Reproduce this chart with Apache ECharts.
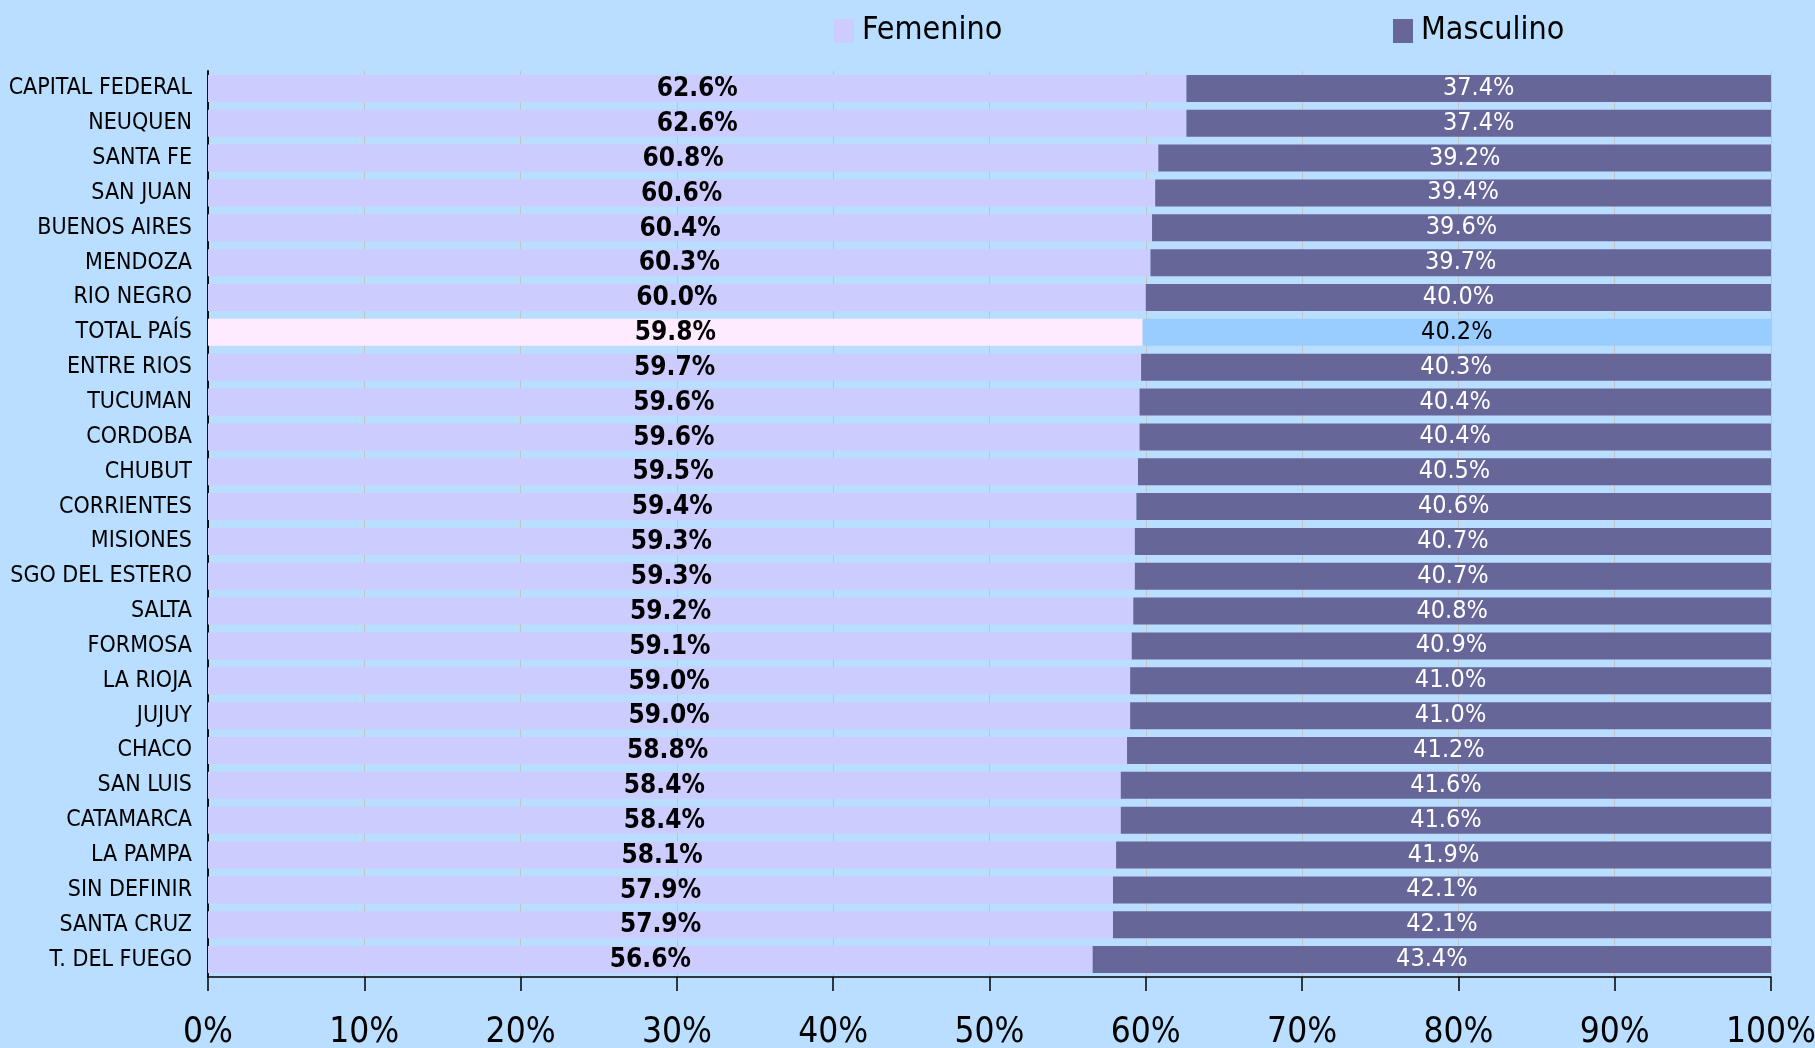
<!DOCTYPE html>
<html>
<head>
<meta charset="utf-8">
<title>Femenino / Masculino por provincia</title>
<script src="https://cdn.jsdelivr.net/npm/echarts@6/dist/echarts.min.js"></script>
<style>
  html, body { margin: 0; padding: 0; background: #B9DEFF; }
  #chart { width: 1815px; height: 1048px; }
</style>
</head>
<body>
<div id="chart"></div>
<script>
// provincias, de arriba hacia abajo
const provincias = [
  'CAPITAL FEDERAL', 'NEUQUEN', 'SANTA FE', 'SAN JUAN', 'BUENOS AIRES', 'MENDOZA',
  'RIO NEGRO', 'TOTAL PAÍS', 'ENTRE RIOS', 'TUCUMAN', 'CORDOBA', 'CHUBUT',
  'CORRIENTES', 'MISIONES', 'SGO DEL ESTERO', 'SALTA', 'FORMOSA', 'LA RIOJA',
  'JUJUY', 'CHACO', 'SAN LUIS', 'CATAMARCA', 'LA PAMPA', 'SIN DEFINIR',
  'SANTA CRUZ', 'T. DEL FUEGO'
];
const femenino = [
  62.6, 62.6, 60.8, 60.6, 60.4, 60.3, 60.0, 59.8, 59.7, 59.6, 59.6, 59.5, 59.4,
  59.3, 59.3, 59.2, 59.1, 59.0, 59.0, 58.8, 58.4, 58.4, 58.1, 57.9, 57.9, 56.6
];
const masculino = [
  37.4, 37.4, 39.2, 39.4, 39.6, 39.7, 40.0, 40.2, 40.3, 40.4, 40.4, 40.5, 40.6,
  40.7, 40.7, 40.8, 40.9, 41.0, 41.0, 41.2, 41.6, 41.6, 41.9, 42.1, 42.1, 43.4
];
const xTicks = [0, 10, 20, 30, 40, 50, 60, 70, 80, 90, 100];

const TOTAL = 'TOTAL PAÍS';
const FONT = '"Liberation Sans Narrow", "Arial Narrow", "DejaVu Sans Condensed", sans-serif';

const chart = echarts.init(document.getElementById('chart'));

// la fila del total va con otros colores
const femData = femenino.map((v, i) => provincias[i] === TOTAL
  ? { value: v, itemStyle: { color: '#FFEBFF' } }
  : v);
const mascData = masculino.map((v, i) => provincias[i] === TOTAL
  ? { value: v, itemStyle: { color: '#99CCFF' }, label: { color: '#000' } }
  : v);

const legendText = { fontFamily: FONT, fontSize: 32, color: '#000', padding: [0, 0, 0, 3] };

const option = {
  backgroundColor: '#B9DEFF',
  animation: false,
  textStyle: { fontFamily: FONT },
  legend: [
    {
      data: ['Femenino'], left: 829, top: 10, icon: 'rect',
      itemWidth: 20, itemHeight: 24, textStyle: legendText
    },
    {
      data: ['Masculino'], left: 1388, top: 10, icon: 'rect',
      itemWidth: 20, itemHeight: 24, textStyle: legendText
    }
  ],
  grid: {
    left: 208, right: 44, top: 71, bottom: 71,
    containLabel: false, outerBoundsMode: 'none'
  },
  xAxis: {
    type: 'value', min: 0, max: 100, interval: 10,
    axisLine: { show: true, lineStyle: { color: '#000', width: 1.5 } },
    axisTick: { show: true, length: 14, lineStyle: { color: '#000', width: 1.5 } },
    axisLabel: {
      margin: 38, fontFamily: FONT, fontSize: 35, color: '#000',
      formatter: v => xTicks.includes(v) ? v + '%' : ''
    },
    splitLine: { show: true, lineStyle: { color: '#C4C4C4', width: 1 } }
  },
  yAxis: {
    type: 'category', data: provincias, inverse: true,
    axisLine: { show: true, lineStyle: { color: '#111', width: 2 } },
    axisTick: { show: false },
    axisLabel: { margin: 16, fontFamily: FONT, fontSize: 23, color: '#000' }
  },
  series: [
    {
      name: 'Femenino', type: 'bar', stack: 'total', barWidth: 27,
      itemStyle: { color: '#CCCCFF' },
      label: {
        show: true, position: 'inside', fontFamily: FONT, fontSize: 26,
        fontWeight: 'bold', color: '#000', offset: [0, 1],
        formatter: p => p.value.toFixed(1) + '%'
      },
      data: femData
    },
    {
      name: 'Masculino', type: 'bar', stack: 'total', barWidth: 27,
      itemStyle: { color: '#666699' },
      label: {
        show: true, position: 'inside', fontFamily: FONT, fontSize: 25,
        color: '#fff',
        formatter: p => p.value.toFixed(1) + '%'
      },
      data: mascData
    }
  ]
};

chart.setOption(option);
</script>
</body>
</html>
